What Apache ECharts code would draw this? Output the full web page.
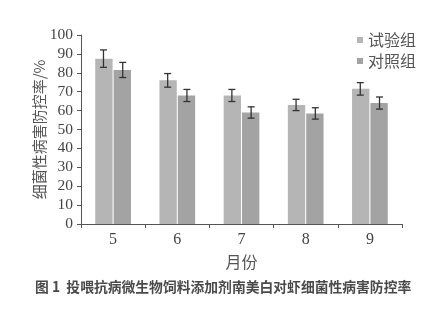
<!DOCTYPE html>
<html><head><meta charset="utf-8">
<script src="https://cdn.jsdelivr.net/npm/echarts@6/dist/echarts.min.js"></script>
<style>html,body{margin:0;padding:0;background:#fff}#c{width:448px;height:324px}</style>
</head><body><div id="c"></div>
<script>
const months = ['5', '6', '7', '8', '9'];
const testGroup = [87.5, 76, 68, 63, 71.5];
const testErr = [4.6, 3.6, 3.2, 3, 3.3];
const controlGroup = [81.5, 68, 59, 58.5, 64];
const controlErr = [4, 3.2, 3, 3, 3.2];
const seriesNames = ['试验组', '对照组'];
const yTicks = [0, 10, 20, 30, 40, 50, 60, 70, 80, 90, 100];

const chart = echarts.init(document.getElementById('c'));
const serif = 'Liberation Serif, Times New Roman, serif';
const cjk = 'Noto Sans CJK SC, sans-serif';

function errSeries(vals, errs, idx) {
  return {
    type: 'custom',
    z: 10,
    data: vals.map((v, i) => [i, v - errs[i], v + errs[i]]),
    renderItem: function (params, api) {
      const ci = api.value(0);
      const lo = api.coord([ci, api.value(1)]);
      const hi = api.coord([ci, api.value(2)]);
      const bw = api.size([1, 0])[0];
      const barW = bw * 0.27;
      const gap = bw * 0.015;
      const cx = lo[0] + (idx === 0 ? -(barW / 2 + gap) : (barW / 2 + gap));
      const cap = 3.5;
      const st = { stroke: '#333', lineWidth: 1.3 };
      return {
        type: 'group',
        children: [
          { type: 'line', shape: { x1: cx, y1: hi[1], x2: cx, y2: lo[1] }, style: st },
          { type: 'line', shape: { x1: cx - cap, y1: hi[1], x2: cx + cap, y2: hi[1] }, style: st },
          { type: 'line', shape: { x1: cx - cap, y1: lo[1], x2: cx + cap, y2: lo[1] }, style: st }
        ]
      };
    }
  };
}

chart.setOption({
  animation: false,
  grid: { left: 81, right: 46, top: 35, bottom: 100 },
  legend: {
    orient: 'vertical',
    left: 352, top: 27,
    itemWidth: 6, itemHeight: 6, itemGap: 5,
    icon: 'rect',
    textStyle: { fontFamily: cjk, fontSize: 16, color: '#555' },
    data: seriesNames
  },
  xAxis: {
    type: 'category',
    data: months,
    name: '月份',
    nameLocation: 'middle',
    nameGap: 30,
    nameMoveOverlap: false,
    nameTextStyle: { fontFamily: cjk, fontSize: 16, color: '#555' },
    axisLine: { lineStyle: { color: '#555', width: 1 } },
    axisTick: { show: true, alignWithLabel: false, length: 4, lineStyle: { color: '#555' } },
    axisLabel: { fontFamily: serif, fontSize: 16, color: '#444', margin: 8 }
  },
  yAxis: {
    type: 'value',
    min: yTicks[0], max: yTicks[yTicks.length - 1], interval: 10,
    name: '细菌性病害防控率/%',
    nameLocation: 'middle',
    nameGap: 34,
    nameMoveOverlap: false,
    nameTextStyle: { fontFamily: cjk, fontSize: 15, color: '#555' },
    axisLine: { show: true, lineStyle: { color: '#555', width: 1 } },
    axisTick: { show: true, length: 4, lineStyle: { color: '#555' } },
    splitLine: { show: false },
    axisLabel: { fontFamily: serif, fontSize: 15.5, color: '#444', margin: 8 }
  },
  graphic: [{
    type: 'text', left: 35, top: 280,
    style: { text: '图 1  投喂抗病微生物饲料添加剂南美白对虾细菌性病害防控率', font: 'bold 13.8px "Noto Sans CJK SC", sans-serif', fill: '#4a4a4a' }
  }],
  series: [
    { name: seriesNames[0], type: 'bar', data: testGroup, barWidth: '27%', barGap: '6%', itemStyle: { color: '#b5b5b5' } },
    { name: seriesNames[1], type: 'bar', data: controlGroup, barWidth: '27%', barGap: '6%', itemStyle: { color: '#a3a3a3' } },
    errSeries(testGroup, testErr, 0),
    errSeries(controlGroup, controlErr, 1)
  ]
});
</script></body></html>
